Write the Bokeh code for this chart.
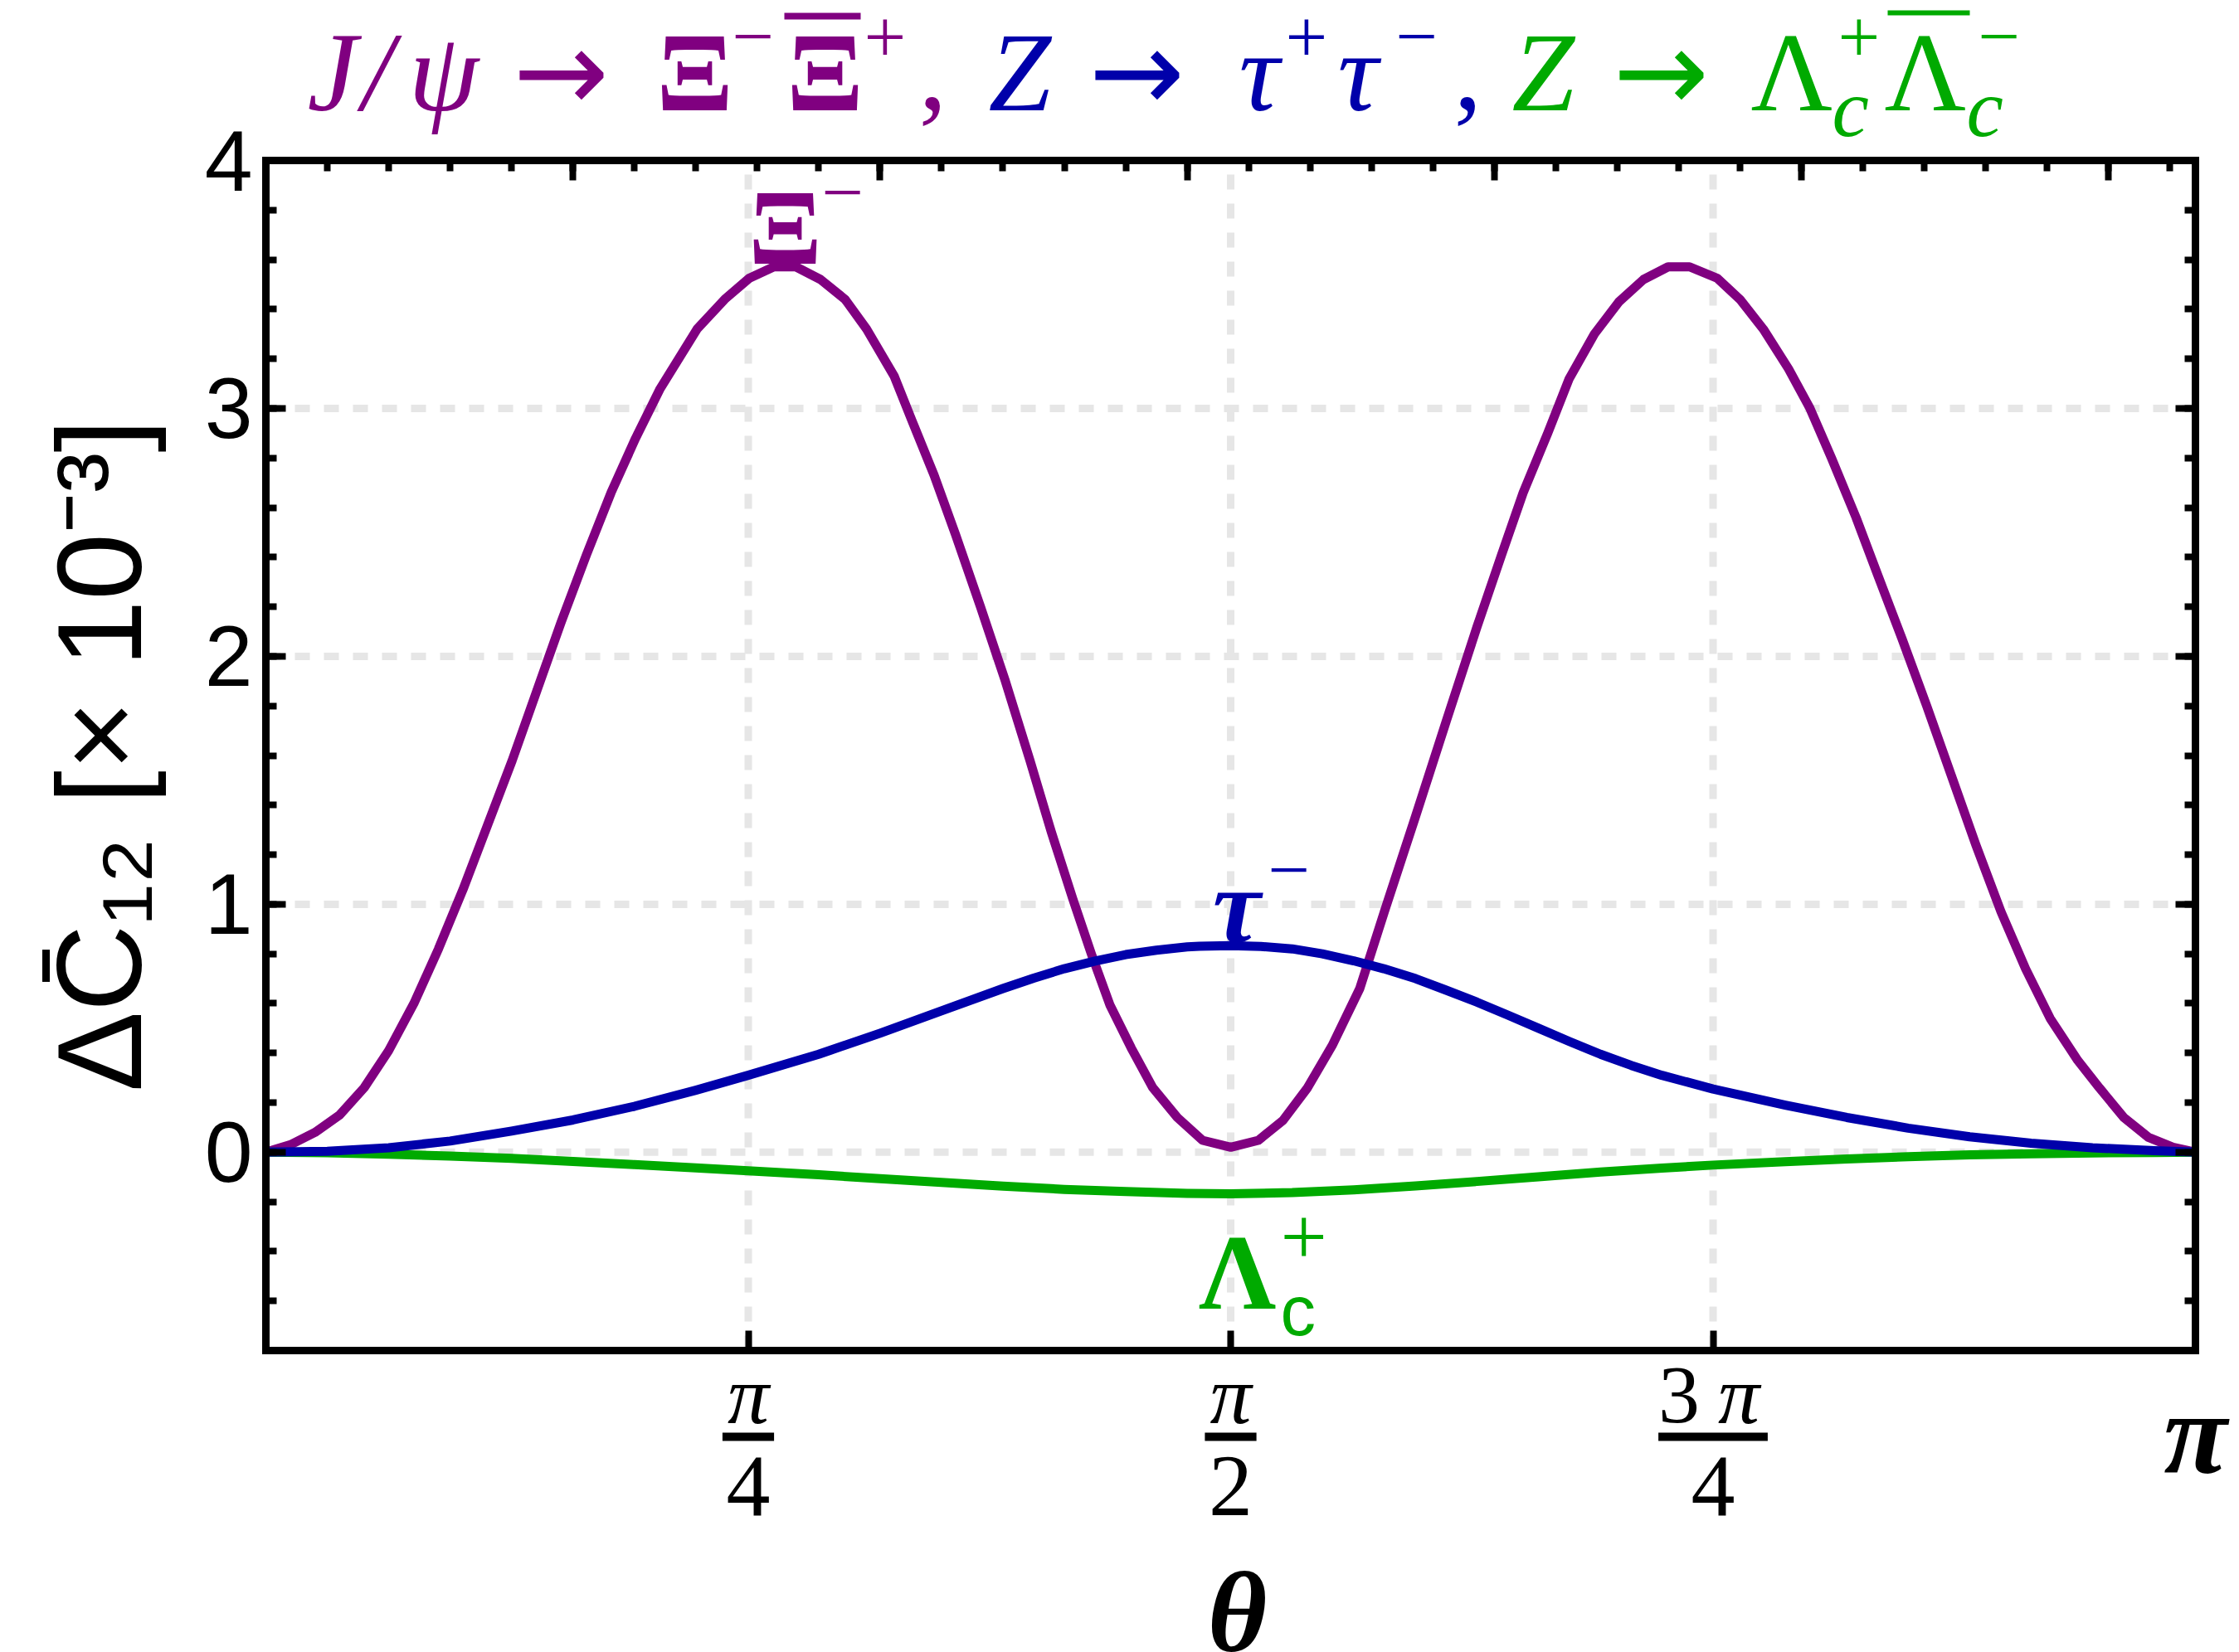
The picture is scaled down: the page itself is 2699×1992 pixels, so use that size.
import numpy as np
from bokeh.plotting import figure
from bokeh.models import Range1d, LinearAxis, FixedTicker, Label
from bokeh.embed import file_html
from bokeh.resources import INLINE

# ---- data: Delta C12 (x 10^-3) versus theta (rad) ----
theta_xi = [0.000, 0.040, 0.080, 0.120, 0.160, 0.200, 0.241, 0.281, 0.321, 0.361,
            0.401, 0.441, 0.481, 0.522, 0.562, 0.602, 0.642, 0.702, 0.747, 0.787,
            0.827, 0.863, 0.903, 0.943, 0.978, 1.023, 1.053, 1.088, 1.123, 1.164,
            1.204, 1.244, 1.279, 1.314, 1.344, 1.374, 1.409, 1.444, 1.484, 1.525,
            1.571, 1.616, 1.656, 1.696, 1.736, 1.781, 1.821, 1.872, 1.922, 1.972,
            2.012, 2.047, 2.087, 2.122, 2.163, 2.203, 2.243, 2.283, 2.318, 2.363,
            2.401, 2.438, 2.479, 2.514, 2.549, 2.589, 2.624, 2.664, 2.704, 2.744,
            2.784, 2.825, 2.865, 2.905, 2.950, 2.985, 3.025, 3.065, 3.105, 3.142]
dc_xi = [0.00, 0.03, 0.08, 0.15, 0.26, 0.41, 0.60, 0.82, 1.06, 1.32,
         1.58, 1.86, 2.14, 2.41, 2.66, 2.88, 3.08, 3.32, 3.44, 3.525,
         3.571, 3.571, 3.52, 3.44, 3.32, 3.13, 2.944, 2.73, 2.49, 2.196,
         1.90, 1.58, 1.29, 1.02, 0.80, 0.595, 0.42, 0.26, 0.14, 0.048,
         0.02, 0.048, 0.128, 0.26, 0.43, 0.66, 0.97, 1.356, 1.74, 2.12,
         2.41, 2.66, 2.90, 3.12, 3.30, 3.43, 3.52, 3.571, 3.571, 3.525,
         3.437, 3.32, 3.16, 3.00, 2.80, 2.56, 2.33, 2.07, 1.80, 1.52,
         1.24, 0.97, 0.74, 0.54, 0.37, 0.26, 0.14, 0.06, 0.02, 0.00]

theta_tau = [0.000, 0.100, 0.200, 0.300, 0.400, 0.500, 0.600, 0.700, 0.785, 0.900,
             1.000, 1.100, 1.200, 1.250, 1.300, 1.350, 1.400, 1.450, 1.500, 1.520,
             1.571, 1.620, 1.671, 1.720, 1.771, 1.820, 1.872, 1.920, 1.972, 2.022,
             2.072, 2.122, 2.173, 2.223, 2.273, 2.356, 2.474, 2.574, 2.674, 2.774,
             2.874, 2.974, 3.075, 3.142]
dc_tau = [0.000, 0.004, 0.018, 0.045, 0.085, 0.130, 0.185, 0.250, 0.310, 0.395,
          0.480, 0.570, 0.660, 0.702, 0.740, 0.771, 0.797, 0.815, 0.828, 0.831,
          0.833, 0.830, 0.820, 0.800, 0.772, 0.740, 0.700, 0.655, 0.605, 0.553,
          0.500, 0.447, 0.395, 0.350, 0.310, 0.255, 0.190, 0.140, 0.097, 0.062,
          0.036, 0.018, 0.006, 0.000]

theta_lc = [0.000, 0.100, 0.200, 0.300, 0.400, 0.500, 0.600, 0.700, 0.785, 0.900,
            1.000, 1.100, 1.200, 1.300, 1.400, 1.500, 1.571, 1.671, 1.771, 1.872,
            1.972, 2.072, 2.173, 2.273, 2.356, 2.474, 2.574, 2.674, 2.774, 2.874,
            2.974, 3.075, 3.142]
dc_lc = [0.000, -0.002, -0.008, -0.016, -0.025, -0.037, -0.050, -0.063, -0.075, -0.091,
         -0.107, -0.122, -0.137, -0.150, -0.159, -0.166, -0.168, -0.163, -0.152, -0.136,
         -0.118, -0.099, -0.080, -0.064, -0.052, -0.038, -0.027, -0.018, -0.011, -0.006,
         -0.003, -0.001, 0.000]

y_major = [0, 1, 2, 3, 4]
y_minor = [round(-0.8 + 0.2 * i, 1) for i in range(25)]
y_grid = [0, 1, 2, 3]
x_major = [np.pi / 4, np.pi / 2, 3 * np.pi / 4]
x_num = ["π", "π", "3π"]
x_den = ["4", "2", "4"]
top_major = [0.5, 1.0, 1.5, 2.0, 2.5, 3.0]
top_minor = [round(0.1 * i, 1) for i in range(1, 32)]

PURPLE = "#800080"
BLUE = "#0000AA"
GREEN = "#00AA00"

# canvas and plot box (pixels)
W, H = 2699, 1992
BL, BR, BT, BB = 320, 2646, 193, 1628
X0, X1 = 0.0, np.pi
Y0, Y1 = -0.8, 4.0
sx = (X1 - X0) / (BR - BL)
sy = (Y1 - Y0) / (BB - BT)

p = figure(width=W, height=H,
           x_range=Range1d(X0 - BL * sx, X1 + (W - BR) * sx),
           y_range=Range1d(Y0 - (H - BB) * sy, Y1 + BT * sy),
           output_backend="svg", toolbar_location=None,
           x_axis_location=None, y_axis_location=None, min_border=0)
p.background_fill_color = "white"
p.border_fill_color = "white"
p.outline_line_color = None
p.grid.visible = False

def dx(px):
    return X0 + (px - BL) * sx

def dy(py):
    return Y0 + (BB - py) * sy

# dashed grid inside the box
p.segment(x0=x_major, y0=[Y0] * len(x_major), x1=x_major, y1=[Y1] * len(x_major),
          line_color="#e6e6e6", line_width=9, line_dash="18 17")
p.segment(x0=[X0] * len(y_grid), y0=y_grid, x1=[X1] * len(y_grid), y1=y_grid,
          line_color="#e6e6e6", line_width=9, line_dash="18 17")

# curves
p.line(theta_xi, dc_xi, line_color=PURPLE, line_width=11, line_join="round")
p.line(theta_lc, dc_lc, line_color=GREEN, line_width=11, line_join="round")
p.line(theta_tau, dc_tau, line_color=BLUE, line_width=11, line_join="round")

def make_axis(ticks, minor, loc, bounds):
    ax = LinearAxis(ticker=FixedTicker(ticks=ticks, minor_ticks=minor),
                    fixed_location=loc, bounds=bounds)
    ax.axis_line_color = "black"
    ax.axis_line_width = 9
    ax.axis_line_cap = "square"
    ax.major_tick_in = 24
    ax.major_tick_out = 0
    ax.minor_tick_in = 13
    ax.minor_tick_out = 0
    ax.major_tick_line_width = 8
    ax.minor_tick_line_width = 8
    ax.major_tick_line_color = "black"
    ax.minor_tick_line_color = "black"
    ax.major_label_overrides = {t: "" for t in ticks}
    return ax

left = make_axis(y_major, y_minor, X0, (Y0, Y1))
left.major_label_overrides = {}
left.major_label_text_font = "Liberation Sans"
left.major_label_text_font_size = "104px"
left.major_label_text_color = "black"
left.major_label_standoff = 16
left.axis_label = "ΔC\u0304\u2081\u2082 [× 10\u207b\u00b3]"
left.axis_label_text_font = "Liberation Sans"
left.axis_label_text_font_size = "145px"
left.axis_label_text_font_style = "normal"
left.axis_label_text_color = "black"
left.axis_label_standoff = 43
p.add_layout(left, "left")

p.add_layout(make_axis(y_major, y_minor, X1, (Y0, Y1)), "right")
p.add_layout(make_axis(top_major, top_minor, Y1, (X0, X1)), "above")
p.add_layout(make_axis(x_major, [], Y0, (X0, X1)), "below")

# text placed by baseline; Bokeh's box sits a little low, so lift by a fraction of the size
LIFT = 0.32

def text(x, py, s, size, color="black", font="Liberation Serif", style="normal",
         align="left"):
    p.add_layout(Label(x=x, y=dy(py - LIFT * size), text=s, text_font=font,
                       text_font_size=f"{size}px", text_font_style=style,
                       text_color=color, text_align=align,
                       text_baseline="alphabetic"))

def rule(x_a, x_b, py_a, py_b, color="black"):
    p.quad(left=x_a, right=x_b, bottom=dy(py_b), top=dy(py_a),
           fill_color=color, line_color=None)

# bottom tick labels as stacked fractions
for xt, num, den in zip(x_major, x_num, x_den):
    half = 0.089 if len(num) > 1 else 0.042
    if len(num) > 1:
        text(xt - 0.089, 1714, num[0], 100)
        text(xt + 0.008, 1714, num[1], 100, style="italic")
    else:
        text(xt, 1714, num, 100, style="italic", align="center")
    rule(xt - half, xt + half, 1727, 1737)
    text(xt, 1825, den, 106, align="center")
text(np.pi, 1773, "π", 140, style="bold italic", align="center")
text(dx(1491), 1988, "θ", 138, style="bold italic", align="center")

# title
TB = 130
ARROW = "DejaVu Sans"
text(dx(370), TB, "J", 136, PURPLE, style="italic")
text(dx(436), TB, "/", 136, PURPLE, style="italic")
text(dx(492), TB, "ψ", 136, PURPLE, style="italic")
text(dx(618), TB, "→", 138, PURPLE, font=ARROW)
text(dx(791), TB, "Ξ", 136, PURPLE, style="bold")
text(dx(882), 72, "−", 90, PURPLE)
text(dx(948), TB, "Ξ", 136, PURPLE, style="bold")
rule(dx(945), dx(1037), 15, 23, PURPLE)
text(dx(1041), 73, "+", 90, PURPLE)
text(dx(1107), TB, ",", 136, PURPLE)
text(dx(1191), TB, "Z", 136, BLUE, style="italic")
text(dx(1312), TB, "→", 138, BLUE, font=ARROW)
text(dx(1493), TB, "τ", 136, BLUE, style="italic")
text(dx(1549), 73, "+", 90, BLUE)
text(dx(1612), TB, "τ", 136, BLUE, style="italic")
text(dx(1682), 72, "−", 90, BLUE)
text(dx(1752), TB, ",", 136, BLUE)
text(dx(1822), TB, "Z", 136, GREEN, style="italic")
text(dx(1944), TB, "→", 138, GREEN, font=ARROW)
text(dx(2110), TB, "Λ", 136, GREEN)
text(dx(2208), 162, "c", 100, GREEN, style="italic")
text(dx(2215), 73, "+", 90, GREEN)
text(dx(2271), TB, "Λ", 136, GREEN)
rule(dx(2275), dx(2374), 12, 18, GREEN)
text(dx(2370), 162, "c", 100, GREEN, style="italic")
text(dx(2384), 72, "−", 90, GREEN)

# curve tags
text(dx(946), 315, "Ξ", 130, PURPLE, style="bold", align="center")
text(dx(990), 260, "−", 90, PURPLE)
text(dx(1490), 1133, "τ", 130, BLUE, style="bold italic", align="center")
text(dx(1528), 1077, "−", 90, BLUE)
text(dx(1491), 1575, "Λ", 130, GREEN, style="bold", align="center")
text(dx(1543), 1607, "c", 85, GREEN, font="Liberation Sans")
text(dx(1543), 1524, "+", 100, GREEN)

open("out.html", "w").write(file_html(p, INLINE))
